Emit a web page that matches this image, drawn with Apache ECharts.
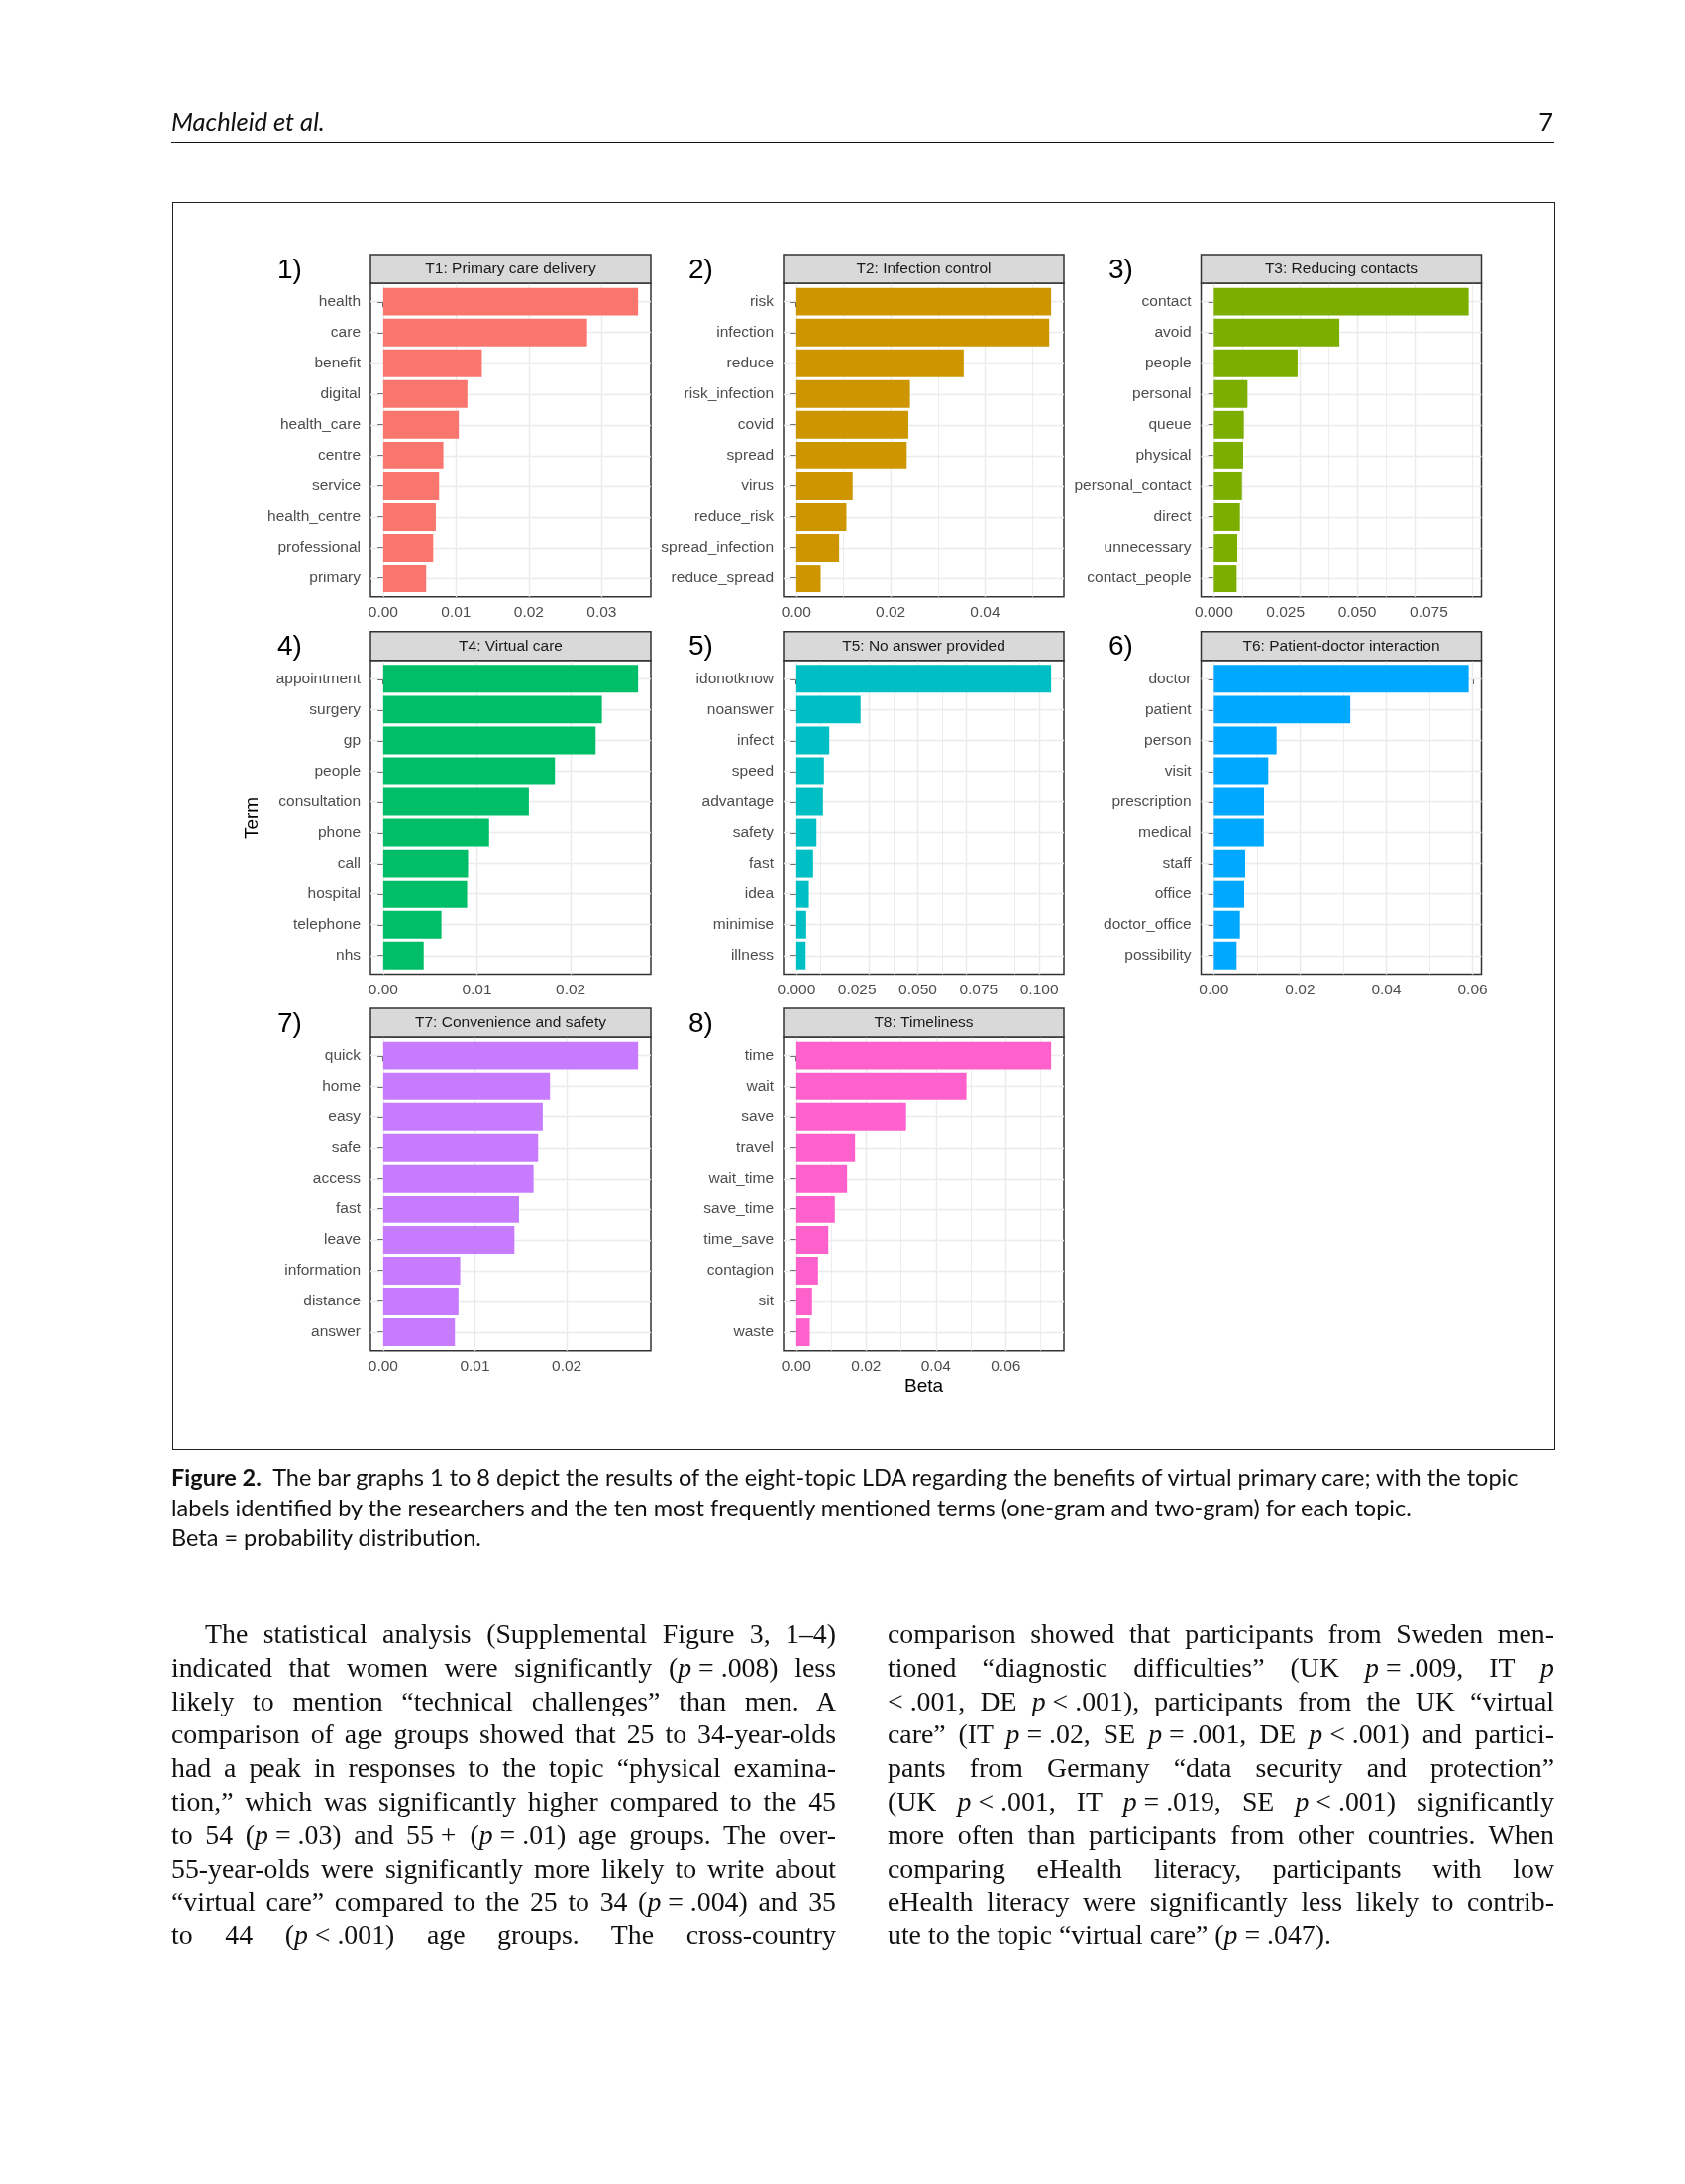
<!DOCTYPE html>
<html>
<head>
<meta charset="utf-8">
<script src="https://cdn.jsdelivr.net/npm/echarts@6/dist/echarts.min.js"></script>
<style>
  html, body { margin: 0; padding: 0; background: #fff; }
  #page { position: relative; width: 1701px; height: 2205px; overflow: hidden; background: #fff; }
  #chart { position: absolute; left: 0; top: 0; width: 1701px; height: 2205px; }
  .t { position: absolute; white-space: nowrap; color: #111; }
  .hdr { font-family: 'Lato', 'Open Sans', sans-serif; font-style: italic; font-size: 25.5px; line-height: 30px; }
  .cap { font-family: 'Lato', 'Open Sans', sans-serif; font-size: 23.5px; line-height: 30.5px; left: 173px; }
  .body { font-family: 'Liberation Serif', 'DejaVu Serif', serif; font-size: 27.8px; line-height: 33.8px; }
  .j { text-align: justify; text-align-last: justify; }
  .l { text-align: left; text-align-last: left; }
</style>
</head>
<body>
<div id="page">
  <div id="chart"></div>

  <div class="t hdr" style="left:173px; top:107px;">Machleid et al.</div>
  <div class="t hdr" style="left:1500px; width:68px; text-align:right; top:107px; font-style:normal;">7</div>
  <div style="position:absolute; left:173px; top:142.5px; width:1396px; height:1.6px; background:#111;"></div>
  <div style="position:absolute; left:173.5px; top:203.5px; width:1394px; height:1258px; border:1.6px solid #222;"></div>

  <div class="t cap" style="top:1476px;"><b>Figure 2.</b>&nbsp; The bar graphs 1 to 8 depict the results of the eight-topic LDA regarding the benefits of virtual primary care; with the topic</div>
  <div class="t cap" style="top:1506.5px;">labels identified by the researchers and the ten most frequently mentioned terms (one-gram and two-gram) for each topic.</div>
  <div class="t cap" style="top:1537px;">Beta = probability distribution.</div>

  <div id="colL" style="position:absolute; left:173px; top:1633px; width:671px;"></div>
  <div id="colR" style="position:absolute; left:896px; top:1633px; width:673px;"></div>
</div>

<script>
// ---------------- data ----------------
const topicTitles = [
  'T1: Primary care delivery', 'T2: Infection control', 'T3: Reducing contacts',
  'T4: Virtual care', 'T5: No answer provided', 'T6: Patient-doctor interaction',
  'T7: Convenience and safety', 'T8: Timeliness'
];
const panelNumbers = ['1)', '2)', '3)', '4)', '5)', '6)', '7)', '8)'];

const t1Terms = ['health', 'care', 'benefit', 'digital', 'health_care', 'centre', 'service', 'health_centre', 'professional', 'primary'];
const t1Beta  = [0.0350, 0.0280, 0.01355, 0.01156, 0.01038, 0.00826, 0.00767, 0.00722, 0.00686, 0.0059];

const t2Terms = ['risk', 'infection', 'reduce', 'risk_infection', 'covid', 'spread', 'virus', 'reduce_risk', 'spread_infection', 'reduce_spread'];
const t2Beta  = [0.0540, 0.0536, 0.03547, 0.02408, 0.02374, 0.02339, 0.01194, 0.01062, 0.00908, 0.00517];

const t3Terms = ['contact', 'avoid', 'people', 'personal', 'queue', 'physical', 'personal_contact', 'direct', 'unnecessary', 'contact_people'];
const t3Beta  = [0.0889, 0.0438, 0.02922, 0.01174, 0.01047, 0.01024, 0.0098, 0.0091, 0.00818, 0.00795];

const t4Terms = ['appointment', 'surgery', 'gp', 'people', 'consultation', 'phone', 'call', 'hospital', 'telephone', 'nhs'];
const t4Beta  = [0.02719, 0.02333, 0.02266, 0.01832, 0.01554, 0.0113, 0.00905, 0.00895, 0.00621, 0.00432];

const t5Terms = ['idonotknow', 'noanswer', 'infect', 'speed', 'advantage', 'safety', 'fast', 'idea', 'minimise', 'illness'];
const t5Beta  = [0.1049, 0.02646, 0.01359, 0.0114, 0.0110, 0.0083, 0.00692, 0.00517, 0.00407, 0.00383];

const t6Terms = ['doctor', 'patient', 'person', 'visit', 'prescription', 'medical', 'staff', 'office', 'doctor_office', 'possibility'];
const t6Beta  = [0.0591, 0.03165, 0.01454, 0.01262, 0.01163, 0.01160, 0.00727, 0.00704, 0.00605, 0.00528];

const t7Terms = ['quick', 'home', 'easy', 'safe', 'access', 'fast', 'leave', 'information', 'distance', 'answer'];
const t7Beta  = [0.02777, 0.01817, 0.01738, 0.01688, 0.01638, 0.0148, 0.0143, 0.00839, 0.0082, 0.00781];

const t8Terms = ['time', 'wait', 'save', 'travel', 'wait_time', 'save_time', 'time_save', 'contagion', 'sit', 'waste'];
const t8Beta  = [0.0730, 0.04873, 0.03145, 0.01683, 0.01456, 0.01105, 0.00918, 0.00623, 0.00453, 0.00388];

const t1Ticks = [0, 0.01, 0.02, 0.03];             const t1TickLabels = ['0.00', '0.01', '0.02', '0.03'];
const t2Ticks = [0, 0.02, 0.04];                   const t2TickLabels = ['0.00', '0.02', '0.04'];
const t3Ticks = [0, 0.025, 0.05, 0.075];           const t3TickLabels = ['0.000', '0.025', '0.050', '0.075'];
const t4Ticks = [0, 0.01, 0.02];                   const t4TickLabels = ['0.00', '0.01', '0.02'];
const t5Ticks = [0, 0.025, 0.05, 0.075, 0.1];      const t5TickLabels = ['0.000', '0.025', '0.050', '0.075', '0.100'];
const t6Ticks = [0, 0.02, 0.04, 0.06];             const t6TickLabels = ['0.00', '0.02', '0.04', '0.06'];
const t7Ticks = [0, 0.01, 0.02];                   const t7TickLabels = ['0.00', '0.01', '0.02'];
const t8Ticks = [0, 0.02, 0.04, 0.06];             const t8TickLabels = ['0.00', '0.02', '0.04', '0.06'];

const yAxisTitle = 'Term';
const xAxisTitle = 'Beta';

// ---------------- styles / layout ----------------
const topicColors = ['#F8766D', '#CD9600', '#7CAE00', '#00BE67', '#00BFC4', '#00A9FF', '#C77CFF', '#FF61CC'];
const FONT = "'Liberation Sans', Arial, Helvetica, sans-serif";
const colLeft = [374, 791, 1212.5];
const panelW = 283;
const stripTop = [257, 637.7, 1018];
const stripH = 29;
const plotH = 316.7;
const numX = [280, 695, 1119];

const panels = [
  { title: topicTitles[0], terms: t1Terms, beta: t1Beta, ticks: t1Ticks, labels: t1TickLabels },
  { title: topicTitles[1], terms: t2Terms, beta: t2Beta, ticks: t2Ticks, labels: t2TickLabels },
  { title: topicTitles[2], terms: t3Terms, beta: t3Beta, ticks: t3Ticks, labels: t3TickLabels },
  { title: topicTitles[3], terms: t4Terms, beta: t4Beta, ticks: t4Ticks, labels: t4TickLabels },
  { title: topicTitles[4], terms: t5Terms, beta: t5Beta, ticks: t5Ticks, labels: t5TickLabels },
  { title: topicTitles[5], terms: t6Terms, beta: t6Beta, ticks: t6Ticks, labels: t6TickLabels },
  { title: topicTitles[6], terms: t7Terms, beta: t7Beta, ticks: t7Ticks, labels: t7TickLabels },
  { title: topicTitles[7], terms: t8Terms, beta: t8Beta, ticks: t8Ticks, labels: t8TickLabels }
];

const grids = [], xAxes = [], yAxes = [], series = [], graphics = [];

panels.forEach((p, i) => {
  const r = Math.floor(i / 3), c = i % 3;
  const left = colLeft[c];
  const plotTop = stripTop[r] + stripH;
  const unit = plotH / (p.terms.length + 0.2);
  const dmax = Math.max(...p.beta);
  const xmin = -0.05 * dmax, xmax = 1.05 * dmax;
  const gA = 2 * i, gB = 2 * i + 1;

  grids.push({ left: left, top: plotTop, width: panelW, height: plotH, show: true,
               backgroundColor: '#fff', borderColor: '#333', borderWidth: 1.5,
               containLabel: false, outerBoundsMode: 'none' });
  grids.push({ left: left, top: plotTop + 0.1 * unit, width: panelW, height: unit * p.terms.length,
               show: false, containLabel: false, outerBoundsMode: 'none' });

  const fmt = (v) => {
    const k = p.ticks.findIndex(t => Math.abs(t - v) < 1e-9);
    return k >= 0 ? p.labels[k] : '';
  };
  xAxes.push({
    type: 'value', gridIndex: gA, min: xmin, max: xmax,
    axisLine: { show: false }, splitLine: { show: false },
    axisTick: { show: true, customValues: p.ticks, length: 5.7, lineStyle: { color: '#333', width: 1.8 } },
    axisLabel: { show: true, customValues: p.ticks, formatter: fmt, color: '#4D4D4D', fontSize: 15.5,
                 fontFamily: FONT, margin: 8, showMinLabel: true, showMaxLabel: true, hideOverlap: false }
  });
  xAxes.push({ type: 'value', gridIndex: gB, min: xmin, max: xmax, show: false });
  yAxes.push({ type: 'value', gridIndex: gA, min: -0.6, max: p.terms.length - 0.4, inverse: true, show: false });
  yAxes.push({
    type: 'category', gridIndex: gB, data: p.terms, inverse: true,
    axisLine: { show: false }, splitLine: { show: false },
    axisTick: { show: true, alignWithLabel: true, length: 5.7, lineStyle: { color: '#333', width: 1.8 } },
    axisLabel: { color: '#4D4D4D', fontSize: 15.5, fontFamily: FONT, margin: 10, interval: 0 }
  });

  // grid lines (ggplot theme_bw style)
  const step = p.ticks[1] - p.ticks[0];
  const lines = [];
  for (let v = p.ticks[0] - step / 2; v <= xmax + 1e-12; v += step) {
    if (v >= xmin) lines.push({ xAxis: v, lineStyle: { color: '#EBEBEB', width: 0.9, type: 'solid' } });
  }
  p.ticks.forEach(v => lines.push({ xAxis: v, lineStyle: { color: '#EBEBEB', width: 1.4, type: 'solid' } }));
  p.terms.forEach((t, k) => lines.push({ yAxis: k, lineStyle: { color: '#EBEBEB', width: 1.4, type: 'solid' } }));

  series.push({
    type: 'line', xAxisIndex: gA, yAxisIndex: gA, data: [[xmin, -0.6]],
    symbol: 'none', showSymbol: false, silent: true, z: 1,
    lineStyle: { width: 0, opacity: 0 },
    markLine: { silent: true, z: 1, symbol: ['none', 'none'], animation: false,
                label: { show: false }, emphasis: { disabled: true },
                lineStyle: { type: 'solid' }, data: lines }
  });
  series.push({
    type: 'bar', xAxisIndex: gB, yAxisIndex: gB, data: p.beta, barWidth: '90%',
    itemStyle: { color: topicColors[i] }, silent: true, z: 8
  });

  // strip
  graphics.push({
    type: 'rect', z: 10,
    shape: { x: left, y: stripTop[r], width: panelW, height: stripH },
    style: { fill: '#D9D9D9', stroke: '#333', lineWidth: 1.5 }
  });
  graphics.push({
    type: 'text', z: 11, x: left + panelW / 2, y: stripTop[r] + stripH / 2 + 0.5,
    style: { text: p.title, font: '15.5px ' + FONT, fill: '#1A1A1A',
             textAlign: 'center', textVerticalAlign: 'middle', align: 'center', verticalAlign: 'middle' }
  });
  // panel number
  graphics.push({
    type: 'text', z: 11, x: numX[c], y: stripTop[r] + 16,
    style: { text: panelNumbers[i], font: '28px ' + FONT, fill: '#000',
             textAlign: 'left', textVerticalAlign: 'middle', align: 'left', verticalAlign: 'middle' }
  });
});

graphics.push({
  type: 'text', z: 11, x: 255, y: 826, rotation: Math.PI / 2,
  style: { text: yAxisTitle, font: '19px ' + FONT, fill: '#000',
           textAlign: 'center', textVerticalAlign: 'middle', align: 'center', verticalAlign: 'middle' }
});
graphics.push({
  type: 'text', z: 11, x: colLeft[1] + panelW / 2, y: 1400,
  style: { text: xAxisTitle, font: '19px ' + FONT, fill: '#000',
           textAlign: 'center', textVerticalAlign: 'middle', align: 'center', verticalAlign: 'middle' }
});

const chart = echarts.init(document.getElementById('chart'), null, { renderer: 'canvas' });
chart.setOption({
  backgroundColor: 'transparent',
  animation: false,
  textStyle: { fontFamily: FONT },
  grid: grids, xAxis: xAxes, yAxis: yAxes, series: series,
  graphic: { elements: graphics }
});

// ---------------- body text ----------------
// U+2005 (four-per-em space) keeps "p = .008" tight under justification
const S = '\u2005';
const P = '<i>p</i>';
const leftLines = [
  ['j', '<span style="display:inline-block;width:34px"></span>The statistical analysis (Supplemental Figure 3, 1–4)'],
  ['j', 'indicated that women were significantly (' + P + S + '=' + S + '.008) less'],
  ['j', 'likely to mention “technical challenges” than men. A'],
  ['j', 'comparison of age groups showed that 25 to 34-year-olds'],
  ['j', 'had a peak in responses to the topic “physical examina-'],
  ['j', 'tion,” which was significantly higher compared to the 45'],
  ['j', 'to 54 (' + P + S + '=' + S + '.03) and 55' + S + '+' + S + S + '(' + P + S + '=' + S + '.01) age groups. The over-'],
  ['j', '55-year-olds were significantly more likely to write about'],
  ['j', '“virtual care” compared to the 25 to 34 (' + P + S + '=' + S + '.004) and 35'],
  ['j', 'to 44 (' + P + S + '&lt;' + S + '.001) age groups. The cross-country']
];
const rightLines = [
  ['j', 'comparison showed that participants from Sweden men-'],
  ['j', 'tioned “diagnostic difficulties” (UK ' + P + S + '=' + S + '.009, IT ' + P],
  ['j', '&lt;' + S + '.001, DE ' + P + S + '&lt;' + S + '.001), participants from the UK “virtual'],
  ['j', 'care” (IT ' + P + S + '=' + S + '.02, SE ' + P + S + '=' + S + '.001, DE ' + P + S + '&lt;' + S + '.001) and partici-'],
  ['j', 'pants from Germany “data security and protection”'],
  ['j', '(UK ' + P + S + '&lt;' + S + '.001, IT ' + P + S + '=' + S + '.019, SE ' + P + S + '&lt;' + S + '.001) significantly'],
  ['j', 'more often than participants from other countries. When'],
  ['j', 'comparing eHealth literacy, participants with low'],
  ['j', 'eHealth literacy were significantly less likely to contrib-'],
  ['l', 'ute to the topic “virtual care” (' + P + S + '=' + S + '.047).']
];
function fill(id, lines) {
  const el = document.getElementById(id);
  el.innerHTML = lines.map(([cls, html]) =>
    '<div class="body ' + cls + '" style="color:#111;white-space:nowrap;">' + html + '</div>').join('');
}
fill('colL', leftLines);
fill('colR', rightLines);
</script>
</body>
</html>
